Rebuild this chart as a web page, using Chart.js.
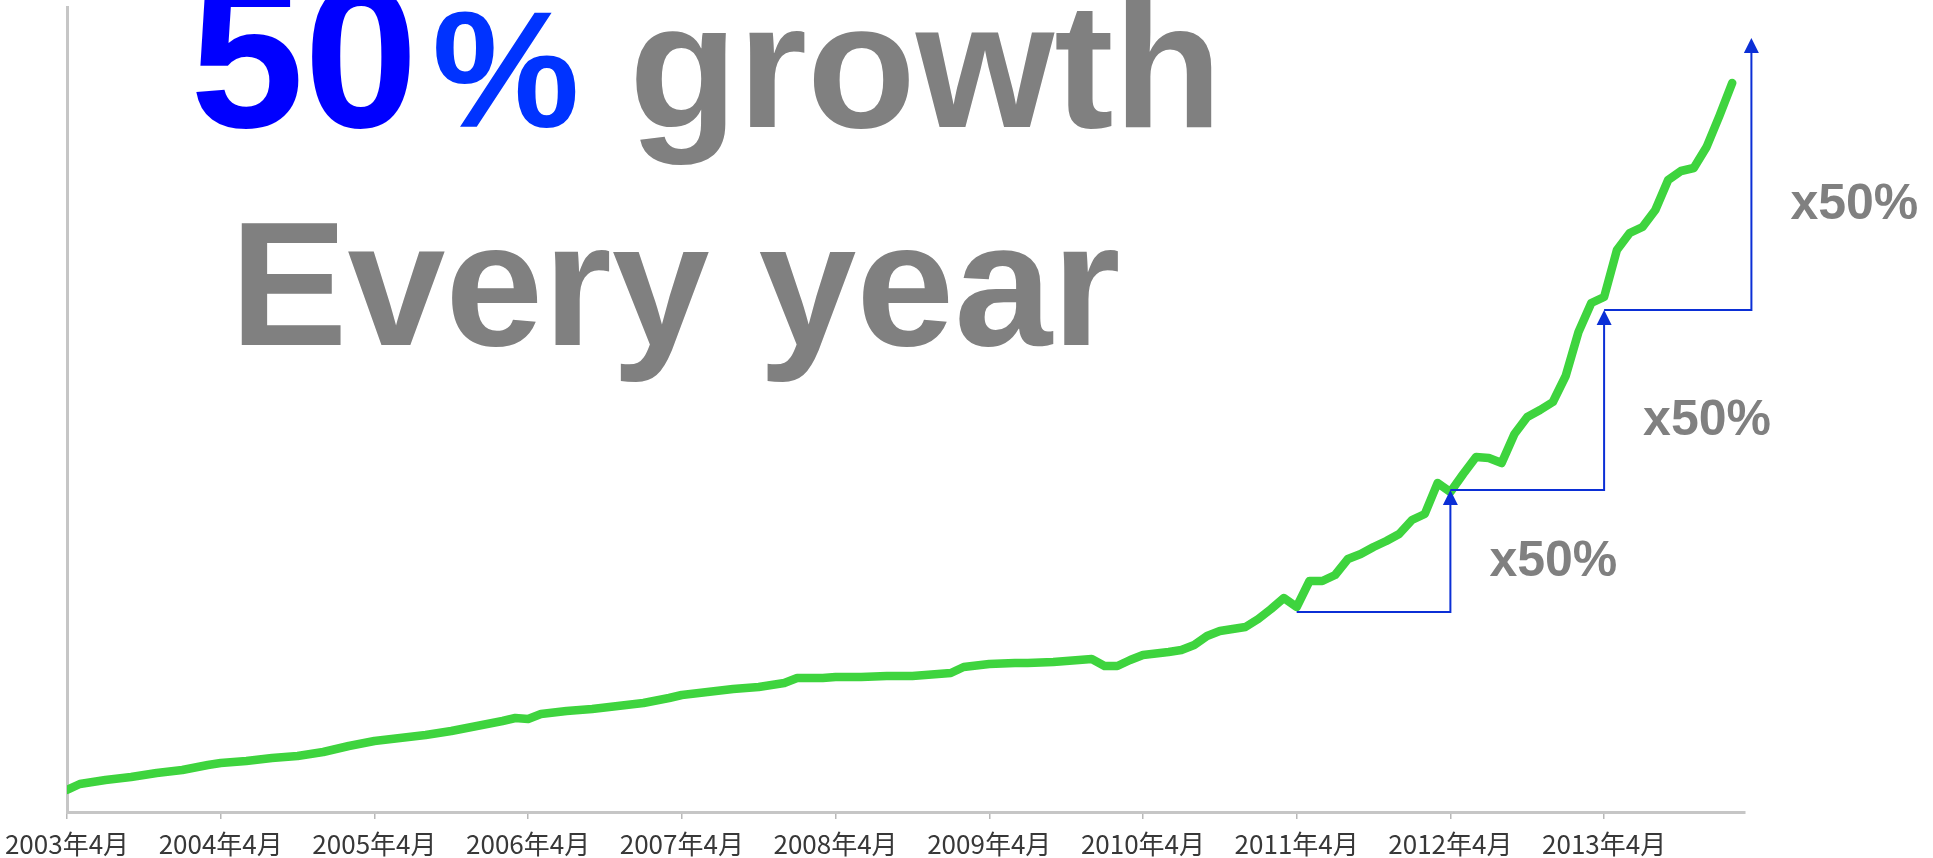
<!DOCTYPE html>
<html lang="ja">
<head>
<meta charset="utf-8">
<title>50% growth every year</title>
<script src="https://cdn.jsdelivr.net/npm/chart.js@4.4.1/dist/chart.umd.min.js"></script>
<style>
  html, body { margin: 0; padding: 0; background: #ffffff; }
  #growth-chart { display: block; }
</style>
</head>
<body>
<canvas id="growth-chart" width="1933" height="858"></canvas>
<script>
// Months counted from April 2003, one point per visible kink of the curve
const months = [
    0, 1, 3, 5, 7, 9, 11, 12, 14, 16, 18, 20, 22, 24, 26, 28, 30, 32, 34, 35,
    36, 37, 39, 41, 43, 45, 47, 48, 50, 52, 54, 56, 57, 59, 60, 62, 64, 66, 68, 69,
    70, 72, 74, 75, 77, 79, 80, 81, 82, 83, 84, 86, 87, 88, 89, 90, 91, 92, 93, 94,
    95, 96, 97, 98, 99, 100, 101, 102, 103, 104, 105, 106, 107, 108, 109, 110, 111, 112, 113, 114,
    115, 116, 117, 118, 119, 120, 121, 122, 123, 124, 125, 126, 127, 128, 129, 130
];
const members = [
    22, 28, 32, 35, 39, 42, 47, 49, 51, 54, 56, 60, 66, 71, 74, 77, 81, 86, 91, 94,
    93, 98, 101, 103, 106, 109, 114, 117, 120, 123, 125, 129, 134, 134, 135, 135, 136, 136, 138, 139,
    145, 148, 149, 149, 150, 152, 153, 146, 146, 152, 157, 160, 162, 167, 176, 181, 183, 185, 193, 203,
    214, 205, 231, 231, 237, 253, 258, 265, 271, 278, 292, 298, 329, 320, 338, 355, 354, 349, 378, 395,
    402, 410, 436, 480, 509, 515, 562, 579, 585, 602, 632, 641, 644, 665, 696, 729
];

const tickMonths = [0, 12, 24, 36, 48, 60, 72, 84, 96, 108, 120];
const tickLabels = [
    '2003年4月', '2004年4月', '2005年4月', '2006年4月', '2007年4月', '2008年4月',
    '2009年4月', '2010年4月', '2011年4月', '2012年4月', '2013年4月'
];

// Yearly steps: where each step starts and the level it climbs to
const stepMonths = [96, 108, 120, 131.5];
const stepLevels = [200, 322, 502, 774];
const stepLabel = 'x50%';

const boldSans = '"Liberation Sans", Arial, sans-serif';

// Blue staircase with arrowheads and the x50% notes
const steps = {
    id: 'steps',
    afterDatasetsDraw(chart) {
        const { ctx, scales: { x, y } } = chart;
        const noteY = [576, 435, 219];
        ctx.save();
        ctx.strokeStyle = '#0b2fd6';
        ctx.fillStyle = '#0b2fd6';
        ctx.lineWidth = 2;
        for (let i = 0; i < stepMonths.length - 1; i++) {
            const x0 = x.getPixelForValue(stepMonths[i]);
            const x1 = x.getPixelForValue(stepMonths[i + 1]);
            const y0 = y.getPixelForValue(stepLevels[i]);
            const y1 = y.getPixelForValue(stepLevels[i + 1]);
            ctx.beginPath();
            ctx.moveTo(x0, y0);
            ctx.lineTo(x1, y0);
            ctx.lineTo(x1, y1 + 12);
            ctx.stroke();
            ctx.beginPath();
            ctx.moveTo(x1, y1);
            ctx.lineTo(x1 - 7.5, y1 + 15);
            ctx.lineTo(x1 + 7.5, y1 + 15);
            ctx.closePath();
            ctx.fill();
        }
        ctx.fillStyle = '#808080';
        ctx.font = 'bold 50px ' + boldSans;
        ctx.textAlign = 'left';
        ctx.textBaseline = 'alphabetic';
        for (let i = 0; i < noteY.length; i++) {
            const xv = x.getPixelForValue(stepMonths[i + 1]);
            ctx.fillText(stepLabel, xv + 39, noteY[i]);
        }
        ctx.restore();
    }
};

// Big headline in the upper left
const headline = {
    id: 'headline',
    afterDraw(chart) {
        const ctx = chart.ctx;
        ctx.save();
        ctx.textAlign = 'left';
        ctx.textBaseline = 'alphabetic';

        let x = 190;
        ctx.font = 'bold 205px ' + boldSans;
        ctx.fillStyle = '#0000ff';
        ctx.fillText('50', x, 127);
        x += ctx.measureText('50').width + 14;

        ctx.font = 'bold 166px ' + boldSans;
        ctx.fillStyle = '#0033ff';
        ctx.fillText('%', x, 127);
        x += ctx.measureText('%').width;

        ctx.font = 'bold 178px ' + boldSans;
        ctx.fillStyle = '#808080';
        x += ctx.measureText(' ').width;
        ctx.fillText('growth', x, 127);

        ctx.font = 'bold 176px ' + boldSans;
        ctx.fillText('Every year', 230, 345);
        ctx.restore();
    }
};

new Chart(document.getElementById('growth-chart'), {
    type: 'line',
    data: {
        datasets: [{
            data: months.map((m, i) => ({ x: m, y: members[i] })),
            borderColor: '#3ed43e',
            borderWidth: 8.5,
            pointRadius: 0,
            tension: 0,
            borderJoinStyle: 'round',
            borderCapStyle: 'round',
            fill: false
        }]
    },
    options: {
        responsive: false,
        animation: false,
        layout: { padding: { top: 7, right: 188, left: 0, bottom: 0 } },
        plugins: {
            legend: { display: false },
            tooltip: { enabled: false }
        },
        scales: {
            x: {
                type: 'linear',
                min: 0,
                max: 131,
                afterBuildTicks: (scale) => {
                    scale.ticks = tickMonths.map(v => ({ value: v }));
                },
                afterFit: (scale) => {
                    scale.height = 46;
                    scale.paddingLeft = 0;
                    scale.paddingRight = 0;
                },
                grid: {
                    drawOnChartArea: false,
                    drawTicks: true,
                    tickLength: 7,
                    color: '#b8b8b8',
                    lineWidth: 1.5
                },
                border: { color: '#c6c6c6', width: 3 },
                ticks: {
                    callback: (value, index) => tickLabels[index],
                    font: { family: '"Noto Sans CJK JP", sans-serif', size: 26 },
                    color: '#383838',
                    padding: 10,
                    maxRotation: 0,
                    autoSkip: false
                }
            },
            y: {
                min: 0,
                max: 805,
                afterFit: (scale) => { scale.width = 67; },
                grid: { drawOnChartArea: false, drawTicks: false },
                border: { color: '#c6c6c6', width: 3 },
                ticks: { display: false }
            }
        }
    },
    plugins: [steps, headline]
});
</script>
</body>
</html>
